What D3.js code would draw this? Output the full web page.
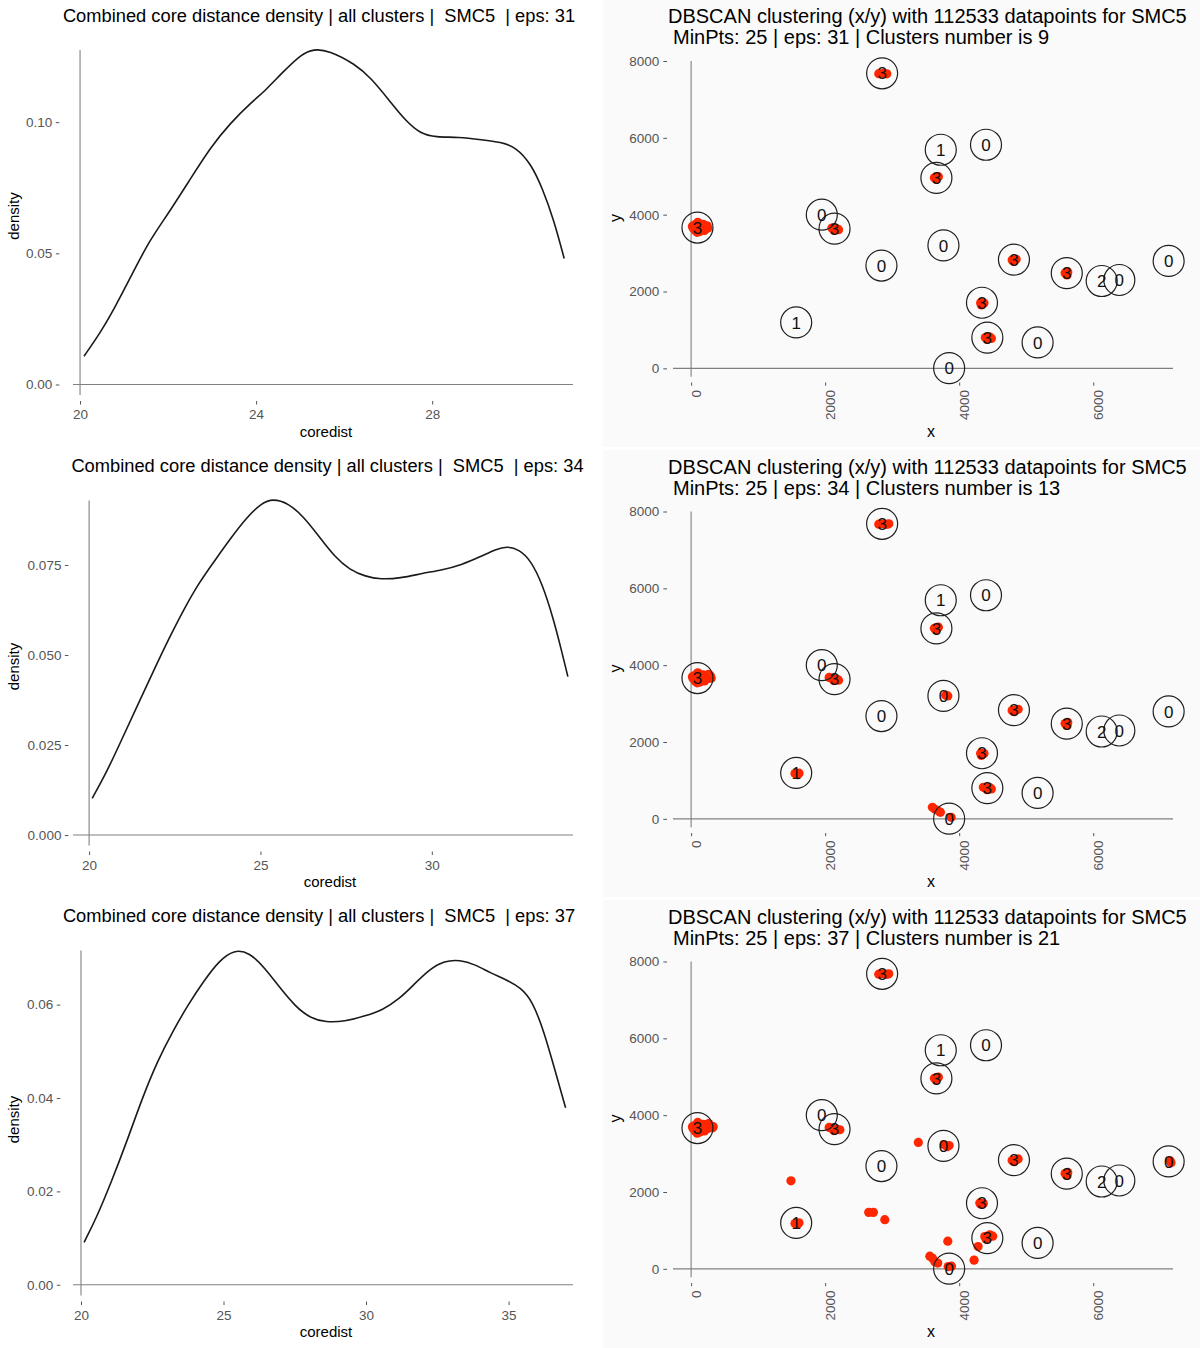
<!DOCTYPE html>
<html>
<head>
<meta charset="utf-8">
<script src="https://cdnjs.cloudflare.com/ajax/libs/d3/7.8.5/d3.min.js"></script>
<style>
    body { margin: 0; background: #fff; }
    svg { display: block; font-family: "Liberation Sans", Arial, Helvetica, sans-serif; }
</style>
</head>
<body>
<div id="chart"></div>
<script>
// run parameters
var epsValues = [31, 34, 37];
var clusterCounts = [9, 13, 21];
var minPts = 25;
var nPoints = 112533;
var sampleName = 'SMC5';

// core distance density curves, [coredist, density]
var density31 = [[20.09,0.0108],[20.45,0.0194],[20.8,0.0296],[21.15,0.041],[21.58,0.055],[22.0,0.065],
    [22.53,0.079],[22.97,0.0905],[23.4,0.0994],[23.92,0.108],[24.18,0.1115],[24.6,0.119],[25.05,0.1262],
    [25.3,0.1278],[25.65,0.1274],[26.26,0.122],[26.6,0.117],[27.04,0.108],[27.39,0.1006],[27.74,0.0955],
    [28.08,0.0943],[28.6,0.0943],[29.13,0.0933],[29.56,0.0924],[29.9,0.0905],[30.25,0.084],[30.5,0.075],
    [30.77,0.0625],[31.0,0.048]];
var density34 = [[20.09,0.0102],[20.54,0.018],[20.99,0.0273],[21.44,0.0366],[21.89,0.0458],[22.33,0.0546],
    [22.78,0.063],[23.23,0.0704],[23.68,0.0764],[24.13,0.0824],[24.58,0.088],[25.03,0.0922],[25.36,0.0934],
    [25.81,0.0922],[26.26,0.0884],[26.71,0.0829],[27.16,0.0773],[27.61,0.0736],[28.06,0.0718],[28.51,0.071],
    [29.07,0.0713],[29.74,0.0727],[30.3,0.0736],[30.86,0.075],[31.42,0.0773],[31.87,0.0794],[32.2,0.0802],
    [32.54,0.0793],[32.88,0.0764],[33.22,0.0699],[33.56,0.0597],[33.78,0.0514],[33.97,0.044]];
var density37 = [[20.11,0.0091],[20.54,0.0143],[21.07,0.0221],[21.61,0.0307],[22.15,0.04],[22.68,0.0479],
    [23.22,0.0543],[23.76,0.06],[24.3,0.065],[24.84,0.0694],[25.37,0.0718],[25.91,0.0712],[26.44,0.0679],
    [26.98,0.0636],[27.52,0.0596],[28.05,0.0571],[28.59,0.0562],[29.26,0.0564],[29.93,0.0575],[30.6,0.0589],
    [31.14,0.0611],[31.68,0.0643],[32.21,0.0675],[32.75,0.0694],[33.29,0.0696],[33.83,0.0686],[34.36,0.0668],
    [34.9,0.0654],[35.44,0.0636],[35.84,0.0607],[36.24,0.0543],[36.64,0.0457],[37.0,0.0379]];

var densityXTicks = [[20, 24, 28], [20, 25, 30], [20, 25, 30, 35]];
var densityYTicks = [[0, 0.05, 0.10], [0, 0.025, 0.05, 0.075], [0, 0.02, 0.04, 0.06]];
var densityYFormat = ['.2f', '.3f', '.2f'];
var densityXLimits = [[19.84, 31.2], [19.53, 34.12], [19.72, 37.26]];
var densityYLimits = [[-0.004, 0.1275], [-0.0029, 0.0929], [-0.0023, 0.0716]];

// circled cluster labels (same in every scatter)
var labelX = [2850, 3725, 4400, 3660, 1950, 2140, 95, 3765, 2840, 4817, 5605, 6126, 6389, 7125, 4340, 1568, 4420, 5170, 3850];
var labelY = [7680, 5690, 5820, 4957, 4000, 3636, 3665, 3200, 2675, 2830, 2478, 2273, 2300, 2795, 1708, 1195, 800, 675, 5];
var labelText = ['3', '1', '0', '3', '0', '3', '3', '0', '0', '3', '3', '2', '0', '0', '3', '1', '3', '0', '0'];

// core points found by DBSCAN, [x, y]
var core31 = [
    [2800,7670],[2870,7680],[2920,7665],
    [3630,4960],[3690,4990],[3660,4920],
    [2100,3650],[2170,3640],[2200,3610],[2130,3600],
    [20,3700],[60,3740],[120,3770],[180,3750],[240,3710],[250,3650],[200,3590],[130,3560],[60,3590],[30,3650],[120,3680],[180,3670],
    [100,3800],[90,3540],
    [4790,2820],[4850,2840],[4820,2790],
    [5580,2480],[5620,2510],[5610,2430],
    [4320,1710],[4370,1700],[4330,1650],
    [4390,800],[4450,820],[4480,780],[4420,760]
];
var core34 = [
    [2800,7670],[2870,7680],[2920,7665],[2950,7680],
    [3630,4960],[3690,4990],[3660,4920],
    [2060,3680],[2100,3650],[2170,3640],[2200,3610],[2130,3600],
    [20,3700],[60,3740],[120,3770],[180,3750],[240,3710],[250,3650],[200,3590],[130,3560],[60,3590],[30,3650],[120,3680],[180,3670],
    [100,3800],[90,3540],[290,3720],[300,3660],[260,3760],
    [3800,3220],[3830,3200],
    [4790,2820],[4850,2840],[4820,2790],[4880,2850],
    [5580,2480],[5620,2510],[5610,2430],
    [4320,1710],[4370,1700],[4330,1650],
    [1550,1180],[1610,1190],[1590,1150],
    [4360,820],[4390,800],[4450,820],[4480,780],[4420,760],
    [3600,300],[3640,250],[3700,190],[3720,170],[3880,40]
];
var core37 = [
    [2800,7670],[2870,7680],[2920,7665],[2950,7680],
    [3630,4960],[3690,4990],[3660,4920],
    [2060,3680],[2100,3650],[2170,3640],[2220,3620],[2130,3600],
    [20,3700],[60,3740],[120,3770],[180,3760],[240,3720],[250,3650],[200,3590],[130,3560],[60,3590],[30,3650],[120,3680],[180,3670],
    [100,3810],[90,3530],[290,3720],[320,3670],[260,3780],[330,3700],
    [3390,3290],
    [3780,3230],[3850,3210],[3820,3180],
    [4790,2820],[4850,2840],[4820,2790],[4880,2860],
    [5580,2480],[5620,2510],[5610,2430],
    [7150,2810],[7160,2760],
    [1490,2290],
    [4307,1715],[4320,1690],[4360,1700],
    [2650,1470],[2720,1470],
    [2890,1280],
    [1550,1180],[1610,1200],[1590,1160],
    [4381,840],[4456,885],[4500,850],[4430,800],[4400,780],
    [3830,720],
    [4282,580],[4222,227],
    [3562,330],[3600,280],[3636,183],[3680,150],[3835,60],[3885,70]
];

var densitySets = [density31, density34, density37];
var coreSets = [core31, core34, core37];
var scatterXTicks = [0, 2000, 4000, 6000];
var scatterYTicks = [0, 2000, 4000, 6000, 8000];
var scatterXLimits = [-270, 7190];
var scatterYLimits = [-220, 8000];

// layout
var rowTop = [0, 450.5, 900.5];
var bgTop = [0, 450, 900];
var bgHeight = [447, 447, 448];
var titleCx = [319, 327.5, 319];
var xTitleCx = [326, 330, 326];
var tickColor = '#555555';
var guideColor = '#808080';

var svg = d3.select('#chart')
    .append('svg')
    .attr('width', 1200)
    .attr('height', 1348);

svg.append('rect')
    .attr('width', 1200)
    .attr('height', 1348)
    .attr('fill', '#ffffff');

function styleAxis(sel) {
    sel.attr('font-family', null).attr('font-size', 13.5);
    sel.select('.domain').remove();
    sel.selectAll('.tick line').attr('stroke', tickColor).attr('stroke-width', 1);
    sel.selectAll('.tick text').attr('fill', tickColor);
}

/**
 * 左侧：core distance 密度曲线
 */
function drawDensity(i) {
    let g = svg.append('g').attr('transform', 'translate(0,' + rowTop[i] + ')');
    let x = d3.scaleLinear().domain(densityXLimits[i]).range([73, 573]);
    let y = d3.scaleLinear().domain(densityYLimits[i]).range([395, 50]);
    let x0 = x(densityXTicks[i][0]);

    g.append('text')
        .attr('x', titleCx[i])
        .attr('y', 21.7)
        .attr('text-anchor', 'middle')
        .attr('xml:space', 'preserve')
        .style('white-space', 'pre')
        .style('font-size', '18.3px')
        .attr('fill', '#000')
        .text('Combined core distance density | all clusters |  ' + sampleName + '  | eps: ' + epsValues[i]);

    // reference lines at x = 20 and density = 0
    g.append('line')
        .attr('x1', x0).attr('x2', x0)
        .attr('y1', y(densityYLimits[i][1])).attr('y2', y(densityYLimits[i][0]))
        .attr('stroke', guideColor).attr('stroke-width', 1.1);
    g.append('line')
        .attr('x1', x.range()[0]).attr('x2', x.range()[1])
        .attr('y1', y(0)).attr('y2', y(0))
        .attr('stroke', guideColor).attr('stroke-width', 1.1);

    g.append('g')
        .attr('transform', 'translate(' + (x0 - 20.7) + ',0)')
        .call(d3.axisLeft(y).tickValues(densityYTicks[i]).tickFormat(d3.format(densityYFormat[i])).tickSize(3.5).tickPadding(3.5))
        .call(styleAxis);

    g.append('g')
        .attr('transform', 'translate(0,401)')
        .call(d3.axisBottom(x).tickValues(densityXTicks[i]).tickFormat(d3.format('d')).tickSize(3.5).tickPadding(5))
        .call(styleAxis);

    let line = d3.line()
        .x(d => x(d[0]))
        .y(d => y(d[1]))
        .curve(d3.curveBasis);

    g.append('path')
        .datum(densitySets[i])
        .attr('d', line)
        .attr('fill', 'none')
        .attr('stroke', '#1a1a1a')
        .attr('stroke-width', 1.6);

    g.append('text')
        .attr('x', xTitleCx[i])
        .attr('y', 436.5)
        .attr('text-anchor', 'middle')
        .style('font-size', '15px')
        .text('coredist');

    g.append('text')
        .attr('transform', 'translate(18.7,' + (i == 2 ? 219 : 216) + ') rotate(-90)')
        .attr('text-anchor', 'middle')
        .style('font-size', '15px')
        .text('density');
}

/**
 * 右侧：DBSCAN 聚类散点
 */
function drawScatter(i) {
    svg.append('rect')
        .attr('x', 603).attr('y', bgTop[i])
        .attr('width', 597).attr('height', bgHeight[i])
        .attr('fill', '#fafafa');

    let g = svg.append('g').attr('transform', 'translate(0,' + rowTop[i] + ')');
    let x = d3.scaleLinear().domain(scatterXLimits).range([673, 1173]);
    let y = d3.scaleLinear().domain(scatterYLimits).range([376.8, 61]);

    g.append('text')
        .attr('x', 668)
        .attr('y', 23.3)
        .style('font-size', '20px')
        .text('DBSCAN clustering (x/y) with ' + nPoints + ' datapoints for ' + sampleName);
    g.append('text')
        .attr('x', 673)
        .attr('y', 44.3)
        .style('font-size', '20px')
        .text('MinPts: ' + minPts + ' | eps: ' + epsValues[i] + ' | Clusters number is ' + clusterCounts[i]);

    g.append('line')
        .attr('x1', x(0)).attr('x2', x(0))
        .attr('y1', y(scatterYTicks[scatterYTicks.length - 1])).attr('y2', y(scatterYLimits[0]))
        .attr('stroke', guideColor).attr('stroke-width', 1.1);
    g.append('line')
        .attr('x1', x.range()[0]).attr('x2', x.range()[1])
        .attr('y1', y(0)).attr('y2', y(0))
        .attr('stroke', guideColor).attr('stroke-width', 1.1);

    g.append('g')
        .attr('transform', 'translate(667,0)')
        .call(d3.axisLeft(y).tickValues(scatterYTicks).tickFormat(d3.format('d')).tickSize(3.7).tickPadding(4))
        .call(styleAxis);

    let xa = g.append('g')
        .attr('transform', 'translate(0,382.5)')
        .call(d3.axisBottom(x).tickValues(scatterXTicks).tickFormat(d3.format('d')).tickSize(3.2))
        .call(styleAxis);
    xa.selectAll('.tick text')
        .attr('transform', 'rotate(-90)')
        .attr('x', -7.5)
        .attr('y', 5)
        .attr('dy', '0.35em')
        .attr('text-anchor', 'end');

    g.append('g')
        .selectAll('circle')
        .data(coreSets[i])
        .enter()
        .append('circle')
        .attr('cx', d => x(d[0]))
        .attr('cy', d => y(d[1]))
        .attr('r', 4.6)
        .attr('fill', '#ff2600');

    let labels = labelText.map((t, k) => ({ t: t, x: labelX[k], y: labelY[k] }));
    g.append('g')
        .selectAll('circle')
        .data(labels)
        .enter()
        .append('circle')
        .attr('cx', d => x(d.x))
        .attr('cy', d => y(d.y))
        .attr('r', 15.5)
        .attr('fill', 'none')
        .attr('stroke', '#1f1f1f')
        .attr('stroke-width', 1.2);
    g.append('g')
        .selectAll('text')
        .data(labels)
        .enter()
        .append('text')
        .attr('x', d => x(d.x))
        .attr('y', d => y(d.y))
        .attr('dy', '0.36em')
        .attr('text-anchor', 'middle')
        .style('font-size', '17px')
        .attr('fill', '#111')
        .text(d => d.t);

    g.append('text')
        .attr('x', 931)
        .attr('y', 436.7)
        .attr('text-anchor', 'middle')
        .style('font-size', '16px')
        .text('x');
    g.append('text')
        .attr('transform', 'translate(621,218) rotate(-90)')
        .attr('text-anchor', 'middle')
        .style('font-size', '16px')
        .text('y');
}

for (let i = 0; i < 3; i++) {
    drawDensity(i);
    drawScatter(i);
}
</script>
</body>
</html>
